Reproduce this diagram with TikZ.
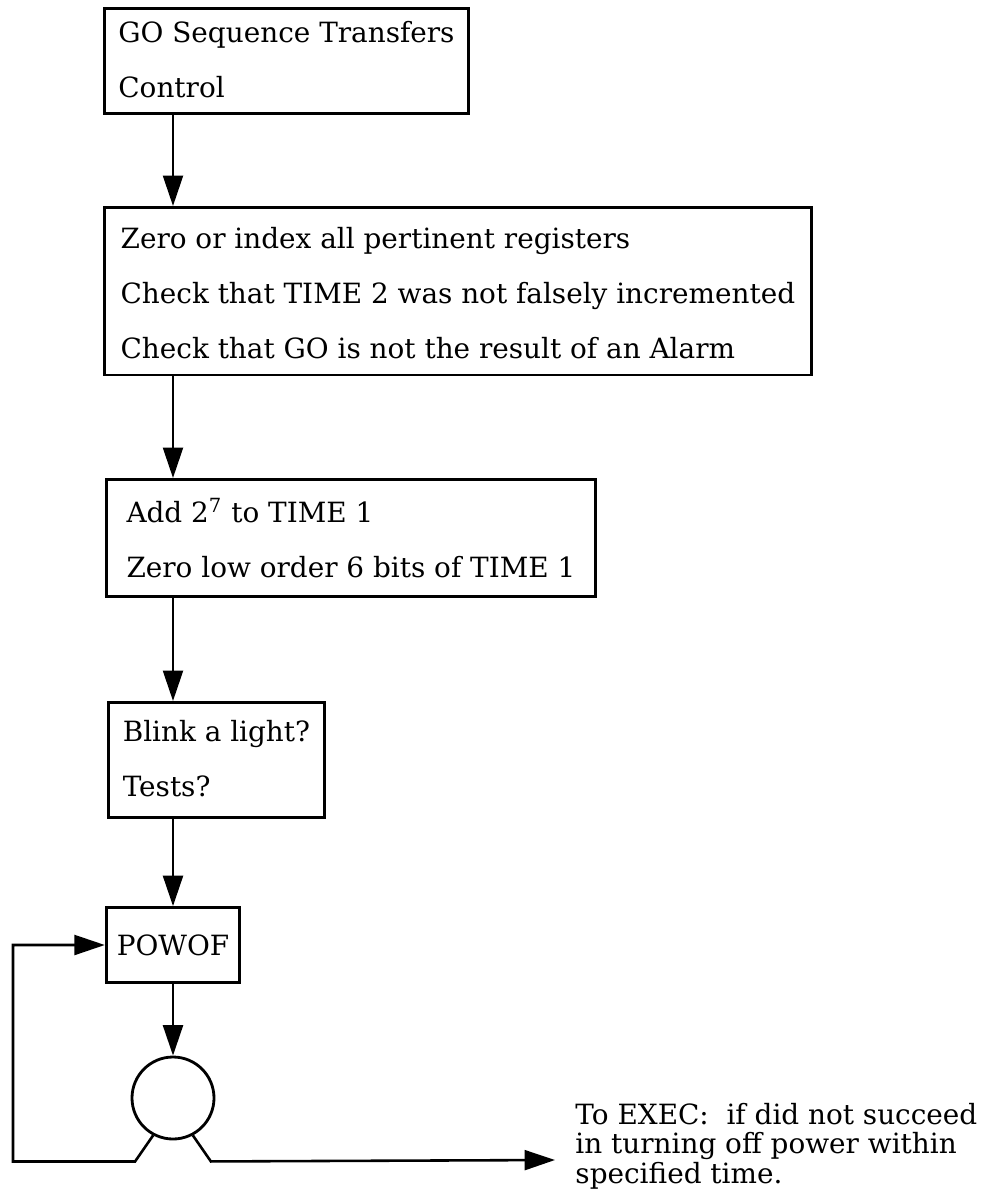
\documentclass[tikz,border=0pt]{standalone}
\usepackage{fontspec}
\setmainfont{DejaVu Serif}
\usetikzlibrary{positioning,arrows.meta,calc}
\tikzset{
  blk/.style={draw=black, line width=1.2pt, align=left, anchor=north west,
    inner xsep=4pt, inner ysep=0pt, font=\fontsize{11.9}{23.5}\selectfont,
    text height=41pt, text depth=7pt},
  sub/.style={draw=black, line width=1.2pt, minimum width=57pt, minimum height=32pt,
    inner sep=0pt, font=\fontsize{11.9}{13}\selectfont},
  joint/.style={circle, draw=black, line width=1.2pt, minimum size=35pt, inner sep=0pt},
  flow/.style={-{Triangle[length=13pt, width=8.5pt]}, line width=1.1pt, draw=black},
  note/.style={align=left, inner sep=0pt, font=\fontsize{11.9}{12.4}\selectfont},
}

\begin{document}
\begin{tikzpicture}[x=0.015cm, y=-0.015cm]
  \useasboundingbox (0,0) rectangle (991,1203);
  \coordinate (col) at (173,0);
  \coordinate (lp) at (13,0);
  \coordinate (out) at (555,1160);

  \node[blk, minimum width=155.4pt, text height=38pt] (go) at (103,7)
    {GO Sequence Transfers\\ Control};
  \node[blk, minimum width=301.7pt, text height=64.5pt] (zero) at (103,206)
    {Zero or index all pertinent registers\\
     Check that TIME 2 was not falsely incremented\\
     Check that GO is not the result of an Alarm};
  \node[blk, minimum width=208.7pt, text height=42pt, text depth=8pt] (add) at (105,478)
    {Add 2\textsuperscript{7} to TIME 1\\ Zero low order 6 bits of TIME 1};
  \node[blk, minimum width=92.2pt, text height=40pt, text depth=9pt] (blink) at (107,701)
    {Blink a light?\\ Tests?};
  \node[sub] (pw) at (173,945) {POWOF};
  \node[joint] (cc) at (173,1098) {};
  \node[note, anchor=base west] (exec) at ([shift={(20,23)}]out)
    {To EXEC:\ \ if did not succeed\\
     in turning off power within\\
     specified time.};

  \draw[flow] (go.south -| col) -- (zero.north -| col);
  \draw[flow] (zero.south -| col) -- (add.north -| col);
  \draw[flow] (add.south -| col) -- (blink.north -| col);
  \draw[flow] (blink.south -| col) -- (pw.north);
  \draw[flow] (pw) -- (cc);
  % loop back and exit
  \draw[flow] (cc.-118) -- ++(-18,26) -| (lp |- pw.west) -- (pw.west);
  \draw[flow] (cc.-62) -- ++(18,26) -- (out);
\end{tikzpicture}
\end{document}
